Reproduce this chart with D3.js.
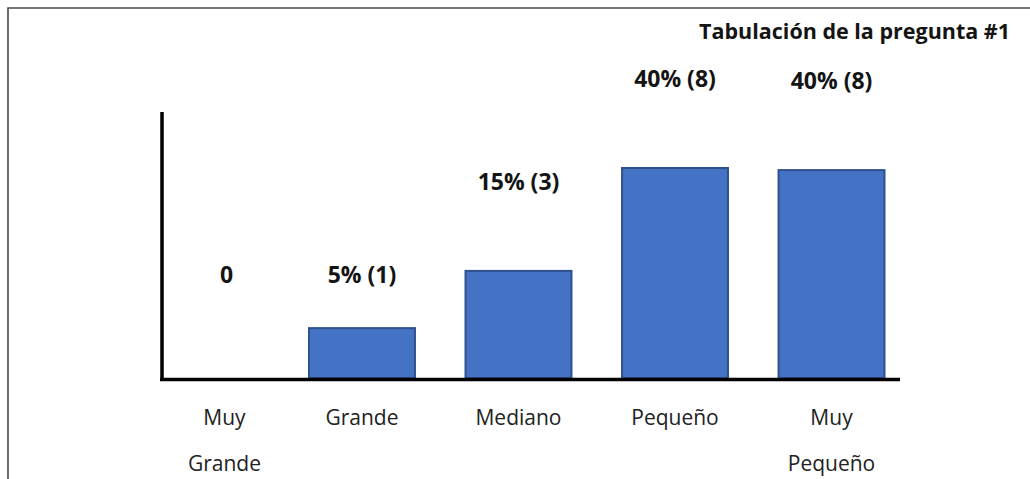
<!DOCTYPE html>
<html lang="es">
<head>
  <meta charset="UTF-8">
  <title>Tabulación de la pregunta #1</title>
  <script src="https://cdn.jsdelivr.net/npm/d3@7"></script>
  <style>
    body { margin: 0; background: #fff; }
    text { font-family: "Open Sans", "Noto Sans", sans-serif; }
  </style>
</head>
<body>
  <svg id="chart"></svg>
  <script>
    // datos
    var categorias = ["Muy Grande", "Grande", "Mediano", "Pequeño", "Muy Pequeño"];
    var conteos = [0, 1, 3, 8, 8];
    var porcentajes = [0, 5, 15, 40, 40];
    // altura dibujada de cada barra (en %)
    var alturas = [0, 9.5, 20.4, 40, 39.6];
    var titulo = "Tabulación de la pregunta #1";

    var width = 1030, height = 479;
    var svg = d3.select("#chart").attr("width", width).attr("height", height);

    // marco
    svg.append("path")
        .attr("d", "M8," + height + "V8H" + width)
        .attr("fill", "none")
        .attr("stroke", "#4a4a4a")
        .attr("stroke-width", 1.6);

    var x = d3.scaleBand()
        .domain(categorias)
        .range([152.5, 884.5])
        .paddingInner(0.323)
        .paddingOuter(0);

    var y = d3.scaleLinear()
        .domain([0, 40])
        .range([378, 168]);

    var datos = categorias.map(function(c, i) {
      return { cat: c, n: conteos[i], p: porcentajes[i], h: alturas[i] };
    });

    // barras
    svg.append("g")
        .selectAll("rect")
        .data(datos.filter(function(d) { return d.h > 0; }))
        .enter()
        .append("rect")
        .attr("x", function(d) { return x(d.cat); })
        .attr("y", function(d) { return y(d.h); })
        .attr("width", x.bandwidth())
        .attr("height", function(d) { return y(0) - y(d.h); })
        .attr("fill", "#4472C4")
        .attr("stroke", "#2F528F")
        .attr("stroke-width", 2);

    // ejes
    svg.append("line")
        .attr("x1", 162).attr("x2", 162)
        .attr("y1", 112).attr("y2", 381)
        .attr("stroke", "#000").attr("stroke-width", 3.5);
    svg.append("line")
        .attr("x1", 160).attr("x2", 900)
        .attr("y1", 379.5).attr("y2", 379.5)
        .attr("stroke", "#000").attr("stroke-width", 3.5);

    // etiquetas de valor
    svg.append("g")
        .selectAll("text")
        .data(datos)
        .enter()
        .append("text")
        .attr("x", function(d) { return x(d.cat) + x.bandwidth() / 2 + (d.n === 0 ? 21 : 0); })
        .attr("y", function(d) { return d.h < 10 ? 283 : y(d.h) - 81; })
        .attr("text-anchor", "middle")
        .style("font-size", "23px")
        .style("font-weight", "bold")
        .attr("fill", "#141414")
        .text(function(d) { return d.n === 0 ? "0" : d.p + "% (" + d.n + ")"; });

    // etiquetas de categoría
    var cats = svg.append("g")
        .selectAll("text")
        .data(datos)
        .enter()
        .append("text")
        .attr("x", function(d) { return x(d.cat) + x.bandwidth() / 2 + (d.n === 0 ? 19 : 0); })
        .attr("y", 425)
        .attr("text-anchor", "middle")
        .style("font-size", "21px")
        .attr("fill", "#222");
    cats.selectAll("tspan")
        .data(function(d) { return d.cat.split(" "); })
        .enter()
        .append("tspan")
        .attr("x", function() { return d3.select(this.parentNode).attr("x"); })
        .attr("dy", function(d, i) { return i === 0 ? 0 : 46; })
        .text(function(d) { return d; });

    // título
    svg.append("text")
        .attr("x", 1010)
        .attr("y", 39)
        .attr("text-anchor", "end")
        .style("font-size", "21.5px")
        .style("font-weight", "bold")
        .attr("fill", "#141414")
        .text(titulo);
  </script>
</body>
</html>
